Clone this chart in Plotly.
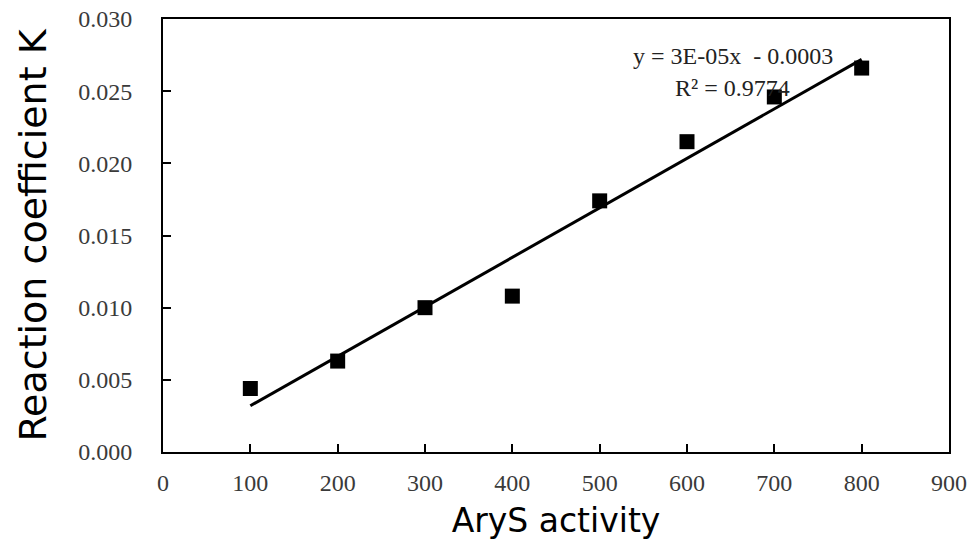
import numpy as np
import plotly.graph_objects as go

activity = [100, 200, 300, 400, 500, 600, 700, 800]
k_values = [0.0044, 0.0063, 0.0100, 0.0108, 0.0174, 0.0215, 0.0246, 0.0266]
x_ticks = [0, 100, 200, 300, 400, 500, 600, 700, 800, 900]
y_ticks = [0.000, 0.005, 0.010, 0.015, 0.020, 0.025, 0.030]
eq_text = "y = 3E-05x  - 0.0003"
r2_text = "R² = 0.9774"

slope, intercept = np.polyfit(activity, k_values, 1)
fit_x = [activity[0], activity[-1]]
fit_y = [slope * v + intercept for v in fit_x]

fig = go.Figure()
fig.add_trace(go.Scatter(x=fit_x, y=fit_y, mode="lines",
                         line=dict(color="black", width=3), showlegend=False))
fig.add_trace(go.Scatter(x=activity, y=k_values, mode="markers",
                         marker=dict(symbol="square", size=15, color="black"),
                         showlegend=False))

tickfont = dict(family="Liberation Serif", size=24, color="#3a3a3a")
fig.update_xaxes(range=[0, 900], tickvals=x_ticks, ticktext=[str(v) for v in x_ticks],
                 ticks="inside", ticklen=8, tickwidth=1.5, tickcolor="black",
                 showline=True, linecolor="black", linewidth=2, mirror=True, automargin=False,
                 showgrid=False, zeroline=False, tickfont=tickfont, ticklabelstandoff=8,
                 title=dict(text="AryS activity", standoff=14,
                            font=dict(family="DejaVu Sans", size=33, color="black")))
fig.update_yaxes(range=[0, 0.030], tickvals=y_ticks, ticktext=[f"{v:.3f}" for v in y_ticks],
                 ticks="inside", ticklen=8, tickwidth=1.5, tickcolor="black",
                 showline=True, linecolor="black", linewidth=2, mirror=True, automargin=False,
                 showgrid=False, zeroline=False, tickfont=tickfont, ticklabelstandoff=24,
                 title=dict(text="Reaction coefficient K", standoff=20,
                            font=dict(family="DejaVu Sans", size=38, color="black")))

fig.add_annotation(x=0.725, y=0.914, xref="paper", yref="paper", text=eq_text,
                   xanchor="center", yanchor="middle",
                   showarrow=False, font=dict(family="Liberation Serif", size=24, color="#222222"))
fig.add_annotation(x=0.725, y=0.84, xref="paper", yref="paper", text=r2_text,
                   xanchor="center", yanchor="middle",
                   showarrow=False, font=dict(family="Liberation Serif", size=24, color="#222222"))

fig.update_layout(width=969, height=544, margin=dict(l=163, r=20, t=19, b=92),
                  plot_bgcolor="white", paper_bgcolor="white")
fig.write_html("out.html", config={"displayModeBar": False},
               post_script="document.body.style.margin='0';document.body.style.overflow='hidden';")
